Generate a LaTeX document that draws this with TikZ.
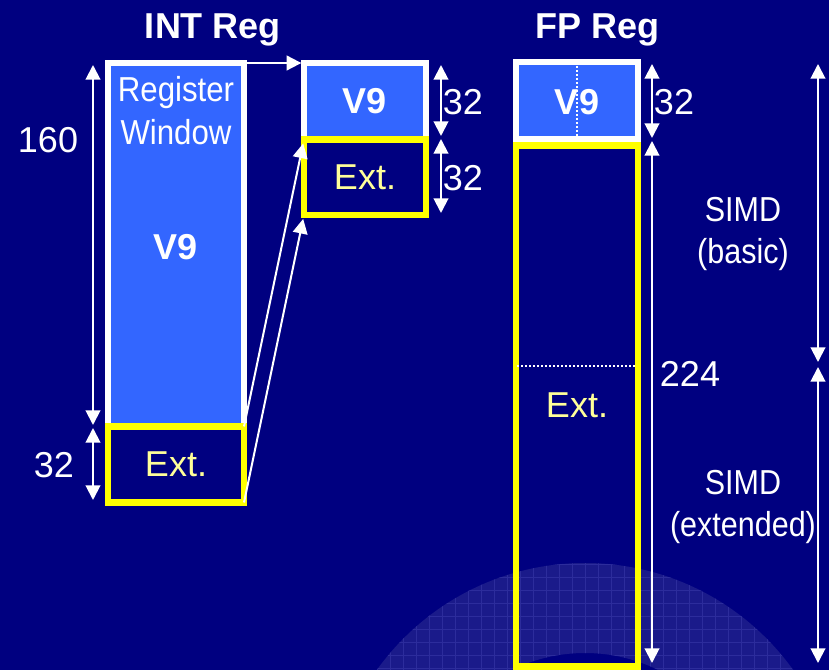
\documentclass[tikz,border=0pt]{standalone}
\usepackage{fontspec}
\setmainfont{Liberation Sans}
\usetikzlibrary{arrows.meta}
\definecolor{navy}{HTML}{000080}
\definecolor{regblue}{HTML}{3366FF}
\definecolor{extyel}{HTML}{FFFF00}
\definecolor{exttext}{HTML}{FFFF99}
\definecolor{ringc}{HTML}{1A1A8A}
\definecolor{gridc}{HTML}{2C2C9C}
\begin{document}
\begin{tikzpicture}[x=0.75pt,y=-0.75pt,
  v9box/.style={draw=white, line width=4.5pt, fill=regblue, inner sep=0pt, outer sep=0pt},
  extbox/.style={draw=extyel, line width=5pt, inner sep=0pt, outer sep=0pt},
  arr/.style={white, line width=1.5pt, -{Triangle[width=11pt,length=11pt]}},
  dimarr/.style={white, line width=1.5pt, {Triangle[width=11pt,length=11pt]}-{Triangle[width=11pt,length=11pt]}},
  dots/.style={white, line width=1.5pt, dash pattern=on 1.5pt off 1.5pt},
  lbl/.style={text=white, font=\fontsize{27}{32}\selectfont, anchor=base, inner sep=0pt},
  ttl/.style={lbl, font=\fontsize{27}{32}\selectfont\bfseries},
  exttxt/.style={lbl, text=exttext},
  note/.style={lbl, font=\fontsize{26}{31.5}\selectfont, align=center, xscale=0.88, transform shape}]
% background
\fill[navy] (0,0) rectangle (829,670);
\useasboundingbox (0,0) rectangle (829,670);
% globe ring
\begin{scope}
  \clip (0,0) rectangle (829,670);
  \fill[ringc, even odd rule] (585,819) circle[radius=192pt] (585,819) circle[radius=124.5pt];
  \begin{scope}[even odd rule]
    \clip (585,819) circle[radius=192pt] (585,819) circle[radius=124.5pt];
    \foreach \gx in {325,338,...,850} \draw[gridc, line width=0.4pt] (\gx,550) -- (\gx,670);
    \foreach \gy in {564,577,...,670} \draw[gridc, line width=0.4pt] (320,\gy) -- (850,\gy);
  \end{scope}
\end{scope}
% titles
\node[ttl] (tint) at (213,39) {INT Reg};
\node[ttl] (tfp) at (598,39) {FP Reg};
% INT register column
\node[v9box, minimum width=102pt, minimum height=272.25pt] (intv9) at (176,244.5) {};
\node[extbox, minimum width=102pt, minimum height=57pt] (intext) at (176,464.5) {};
\node[lbl, align=center, font=\fontsize{26}{32.5}\selectfont, xscale=0.9, transform shape] (rw) at (176,145) {Register\\Window};
\node[ttl] (intv9t) at (176,260) {V9};
\node[exttxt] (intextt) at (176,477) {Ext.};
% middle column
\node[v9box, minimum width=91.5pt, minimum height=57pt] (midv9) at (365,101) {};
\node[extbox, minimum width=91.5pt, minimum height=56.6pt] (midext) at (365,177.25) {};
\node[ttl] (midv9t) at (365,114) {V9};
\node[exttxt] (midextt) at (365,190) {Ext.};
% FP column
\node[extbox, minimum width=91.5pt, minimum height=391.1pt] (fpext) at (577,406) {};
\node[v9box, minimum width=91.5pt, minimum height=57.75pt] (fpv9) at (577,100.5) {};
\node[ttl] (fpv9t) at (577,115) {V9};
\draw[dots] (fpv9.north) -- (fpv9.south);
\coordinate (sep) at (577,366);
\draw[dots] ([xshift=1pt]fpext.west |- sep) -- ([xshift=-1pt]fpext.east |- sep);
\node[exttxt] (fpextt) at (577,418) {Ext.};
% connectors from INT to middle
\draw[arr, shorten >=2pt] (intv9.north east) -- (midv9.north west);
\draw[arr, shorten >=3pt] (intext.north east) -- (midext.north west);
\draw[arr, shorten >=3pt] (intext.south east) -- (midext.south west);
% dimension arrows
\coordinate (a1) at (93,65);  \coordinate (a2) at (93,425);
\coordinate (a3) at (93,428); \coordinate (a4) at (93,500);
\draw[dimarr] (a1) -- (a2);
\draw[dimarr] (a3) -- (a4);
\node[lbl] (n160) at (48,153) {160};
\node[lbl] (n32a) at (54,478) {32};
\coordinate (b1) at (441,65);  \coordinate (b2) at (441,136);
\coordinate (b3) at (441,139); \coordinate (b4) at (441,213);
\draw[dimarr] (b1) -- (b2);
\draw[dimarr] (b3) -- (b4);
\node[lbl] (n32b) at (463,115) {32};
\node[lbl] (n32c) at (463,191) {32};
\coordinate (c1) at (652,64);  \coordinate (c2) at (652,138);
\coordinate (c3) at (652,141); \coordinate (c4) at (652,663);
\draw[dimarr] (c1) -- (c2);
\draw[dimarr] (c3) -- (c4);
\node[lbl] (n32d) at (674,115) {32};
\node[lbl] (n224) at (690,387) {224};
\coordinate (e1) at (818,64);  \coordinate (e2) at (818,362);
\coordinate (e3) at (818,367); \coordinate (e4) at (818,663);
\draw[dimarr] (e1) -- (e2);
\draw[dimarr] (e3) -- (e4);
\node[note] (simdb) at (743,264) {SIMD\\(basic)};
\node[note] (simde) at (743,536) {SIMD\\(extended)};
\end{tikzpicture}
\end{document}
